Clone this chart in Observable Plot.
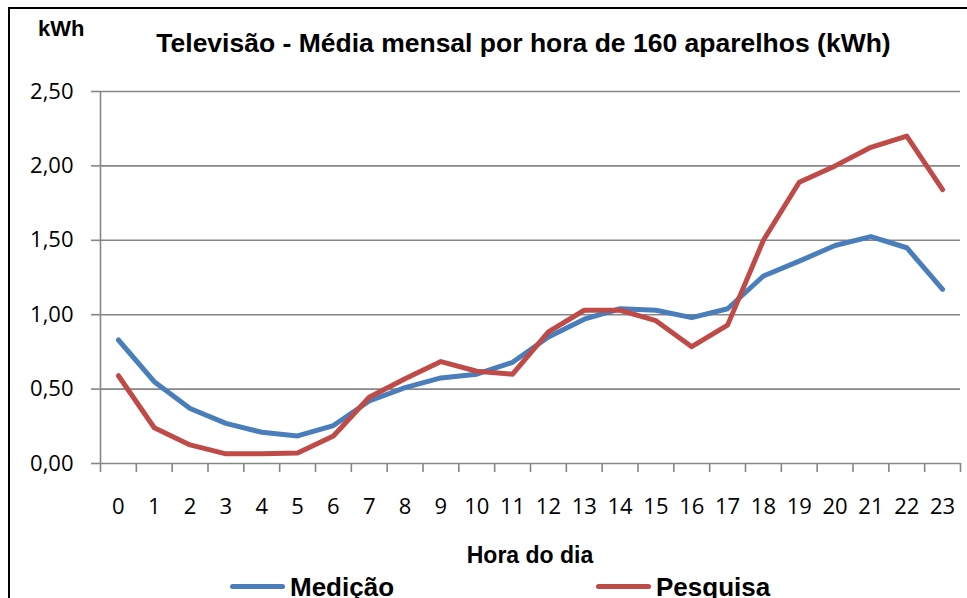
<!DOCTYPE html>
<html>
<head>
<meta charset="utf-8">
<script src="https://cdn.jsdelivr.net/npm/d3@7"></script>
<script src="https://cdn.jsdelivr.net/npm/@observablehq/plot@0.6"></script>
<style>
  html, body { margin: 0; padding: 0; background: #fff; }
  #wrap { position: relative; width: 967px; height: 598px; overflow: hidden; background: #fff; }
  #frame { position: absolute; left: 8px; top: 7px; width: 2000px; height: 2000px;
           border-left: 2px solid #000; border-top: 2px solid #000; }
  .t { position: absolute; font-family: "Liberation Sans", Arial, sans-serif; font-weight: bold;
       line-height: 1; white-space: nowrap; color: #000; }
  #title { font-size: 26.5px; left: 523.5px; top: 29.6px; transform: translateX(-50%); }
  #unit { font-size: 22px; left: 38px; top: 18px; }
  #xlabel { font-size: 23px; left: 530px; top: 543.5px; transform: translateX(-50%); }
  .leg { font-size: 26px; top: 574px; }
  .sw { position: absolute; height: 5px; border-radius: 3px; top: 583.5px; width: 55px; }
  #chart { position: absolute; left: 0; top: 80px; }
</style>
</head>
<body>
<div id="wrap">
  <div id="frame"></div>
  <div class="t" id="unit">kWh</div>
  <div class="t" id="title">Televisão - Média mensal por hora de 160 aparelhos (kWh)</div>
  <div id="chart"></div>
  <div class="t" id="xlabel">Hora do dia</div>
  <div id="legend"></div>
</div>
<script>
const hours = [0,1,2,3,4,5,6,7,8,9,10,11,12,13,14,15,16,17,18,19,20,21,22,23];
const medicao = [0.83,0.55,0.37,0.27,0.21,0.185,0.255,0.42,0.51,0.575,0.60,0.68,0.85,0.97,1.04,1.03,0.98,1.04,1.26,1.36,1.465,1.525,1.45,1.17];
const pesquisa = [0.59,0.24,0.125,0.065,0.065,0.07,0.185,0.445,0.57,0.685,0.62,0.60,0.885,1.03,1.03,0.96,0.785,0.93,1.50,1.89,2.00,2.125,2.20,1.84];
const seriesNames = ["Medição", "Pesquisa"];
const seriesColors = ["#4a7ebb", "#be4b48"];
const yTicks = [0, 0.5, 1.0, 1.5, 2.0, 2.5];

const data = [];
hours.forEach((h, i) => {
  data.push({hour: h, value: medicao[i], series: seriesNames[0]});
  data.push({hour: h, value: pesquisa[i], series: seriesNames[1]});
});
const bounds = hours.map(h => h - 0.5).concat([hours[hours.length - 1] + 0.5]);
const fmt = d => d.toFixed(2).replace(".", ",");

const chart = Plot.plot({
  width: 967,
  height: 450,
  marginLeft: 100,
  marginRight: 7,
  marginTop: 11,
  marginBottom: 67,
  style: {fontFamily: "'Open Sans', sans-serif", fontSize: "22px", color: "#000", background: "transparent", overflow: "visible"},
  x: {domain: [bounds[0], bounds[bounds.length - 1]]},
  y: {domain: [yTicks[0], yTicks[yTicks.length - 1]]},
  color: {domain: seriesNames, range: seriesColors},
  marks: [
    Plot.ruleY(yTicks, {stroke: "#868686", strokeWidth: 1.6}),
    Plot.ruleX([bounds[0]], {y1: yTicks[0], y2: yTicks[yTicks.length - 1], stroke: "#868686", strokeWidth: 1.6}),
    Plot.axisY({ticks: yTicks, tickFormat: fmt, tickSize: 9, tickPadding: 18, stroke: "#868686", strokeWidth: 1.6, fill: "#000", label: null}),
    Plot.axisX({ticks: bounds, tickFormat: () => "", tickSize: 9, stroke: "#868686", strokeWidth: 1.6, label: null}),
    Plot.axisX({ticks: hours, tickFormat: d => String(d), tickSize: 0, tickPadding: 35, fill: "#000", label: null}),
    Plot.line(data, {x: "hour", y: "value", z: "series", stroke: "series", strokeWidth: 5, strokeLinejoin: "round", strokeLinecap: "round"})
  ]
});
document.getElementById("chart").appendChild(chart);

const legend = document.getElementById("legend");
const legPos = [{sw: 230, tx: 290}, {sw: 596, tx: 656}];
seriesNames.forEach((name, i) => {
  const sw = document.createElement("div");
  sw.className = "sw";
  sw.style.left = legPos[i].sw + "px";
  sw.style.background = seriesColors[i];
  legend.appendChild(sw);
  const t = document.createElement("div");
  t.className = "t leg";
  t.style.left = legPos[i].tx + "px";
  t.textContent = name;
  legend.appendChild(t);
});
</script>
</body>
</html>
